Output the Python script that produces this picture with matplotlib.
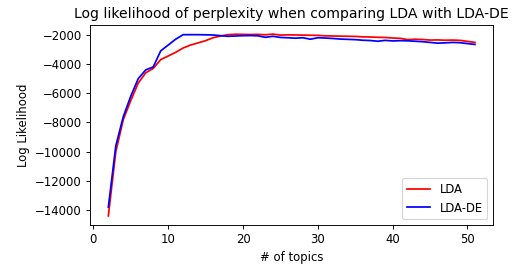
import matplotlib
matplotlib.use("Agg")
import matplotlib.pyplot as plt

topics = list(range(2, 52))

lda = [-14400, -10000, -7800, -6500, -5300, -4600, -4300, -3700, -3450, -3200,
       -2900, -2700, -2550, -2400, -2200, -2080, -1990, -1960, -1970, -1980,
       -1970, -2000, -1950, -2020, -2000, -2010, -2020, -2030, -2040, -2070,
       -2080, -2090, -2100, -2110, -2140, -2150, -2170, -2180, -2220, -2240,
       -2330, -2300, -2320, -2360, -2350, -2370, -2360, -2380, -2450, -2520]

lda_de = [-13800, -9600, -7600, -6200, -5000, -4400, -4200, -3100, -2700, -2300,
          -1990, -1990, -1990, -2000, -2010, -2060, -2100, -2080, -2060, -2050,
          -2070, -2170, -2100, -2180, -2200, -2230, -2200, -2300, -2200, -2220,
          -2250, -2290, -2310, -2330, -2370, -2390, -2440, -2380, -2420, -2400,
          -2410, -2440, -2470, -2520, -2570, -2550, -2520, -2540, -2600, -2660]

fig = plt.figure(figsize=(527 / 84, 270 / 84), dpi=84)
ax = fig.add_subplot(111)
fig.subplots_adjust(left=90 / 527, right=493.3 / 527, top=1 - 25 / 270, bottom=1 - 225 / 270)

ax.plot(topics, lda, color="red", label="LDA")
ax.plot(topics, lda_de, color="blue", label="LDA-DE")

ax.set_title("Log likelihood of perplexity when comparing LDA with LDA-DE")
ax.set_xlabel("# of topics")
ax.set_ylabel("Log Likelihood")
ax.legend(loc="lower right")

fig.savefig("out.png", dpi=84)
